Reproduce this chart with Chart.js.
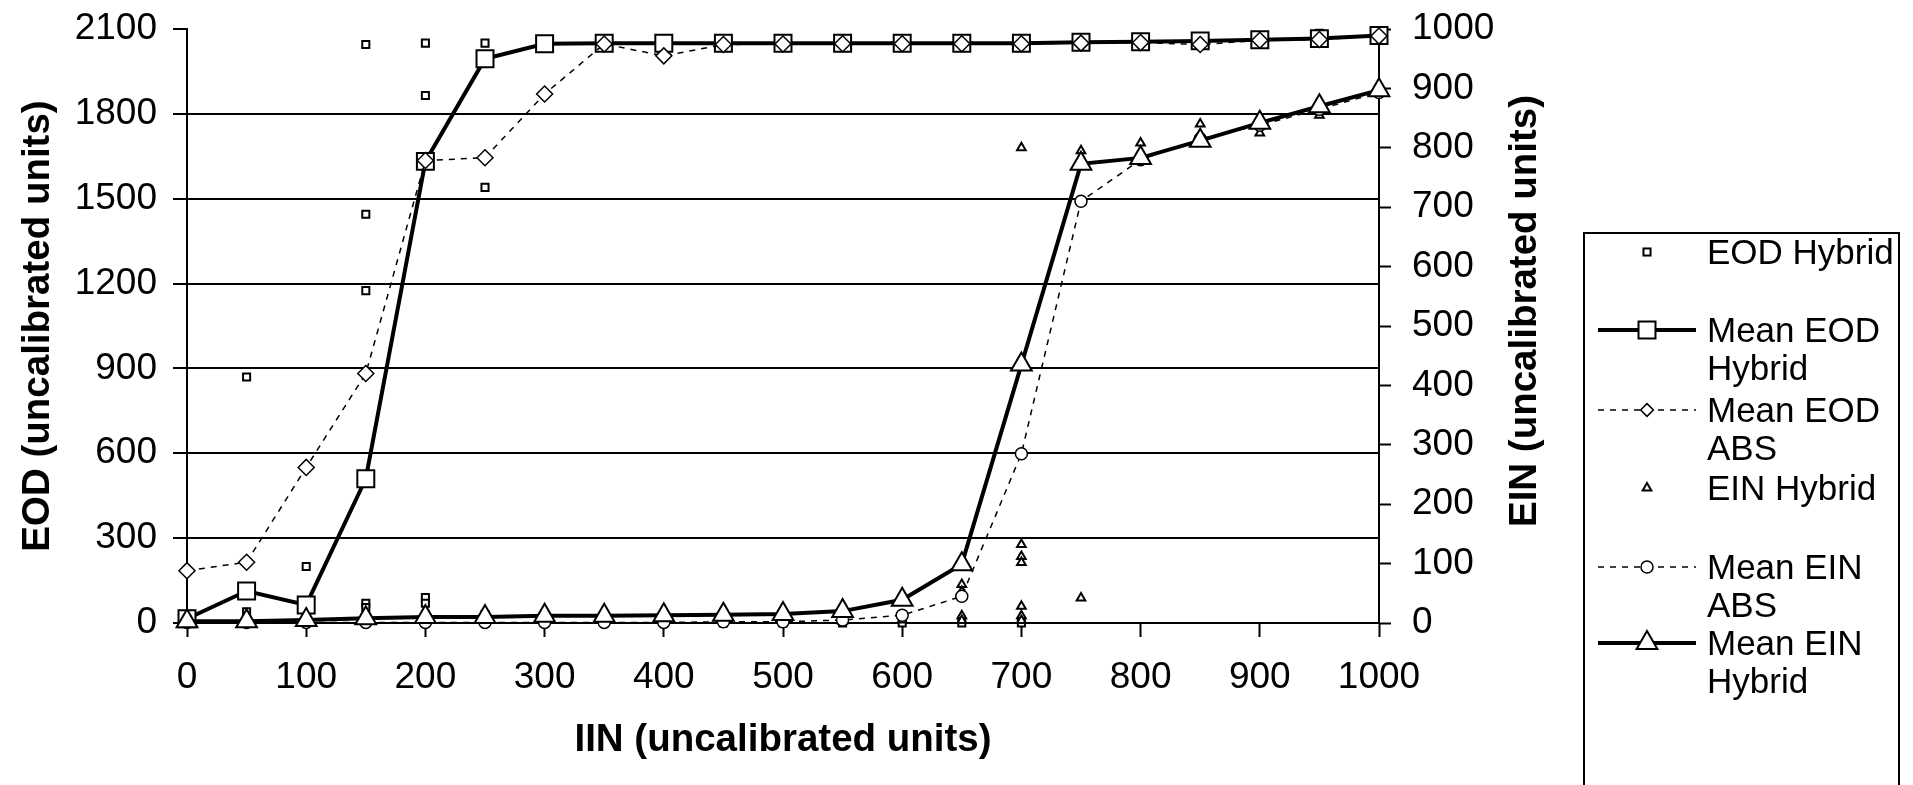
<!DOCTYPE html>
<html>
<head>
<meta charset="utf-8">
<title>EOD and EIN vs IIN</title>
<script src="https://cdn.jsdelivr.net/npm/chart.js"></script>
<style>
  html, body { margin: 0; padding: 0; background: #fff; }
  body { width: 1913px; height: 785px; position: relative; overflow: hidden; font-family: "Liberation Sans", Arial, sans-serif; }
  #wrap { position: absolute; left: 0; top: 0; width: 1913px; height: 785px; }
  #legendBox { position: absolute; left: 1583px; top: 232px; width: 313px; height: 620px; border: 2px solid #000; }
  .lg-text { position: absolute; left: 1707px; font-size: 35px; line-height: 38px; color: #000; white-space: nowrap; }
  .lg-sym { position: absolute; left: 1590px; width: 116px; height: 40px; }
</style>
</head>
<body>
<div id="wrap"><canvas id="chart"></canvas></div>
<div id="legendBox"></div>
<div id="legend"></div>
<script>
// --------- Data ---------
const iin = [0, 50, 100, 150, 200, 250, 300, 350, 400, 450, 500, 550, 600, 650, 700, 750, 800, 850, 900, 950, 1000];

// left axis (EOD)
const meanEodHybrid = [15, 113, 64, 510, 1632, 1995, 2048, 2050, 2050, 2050, 2050, 2050, 2050, 2050, 2050, 2053, 2055, 2058, 2062, 2066, 2077];
const meanEodAbs = [185, 215, 550, 882, 1635, 1645, 1870, 2047, 2005, 2045, 2047, 2048, 2048, 2048, 2048, 2050, 2052, 2045, 2060, 2063, 2075];
const eodHybridX = [0, 50, 50, 100, 100, 150, 150, 150, 150, 150, 200, 200, 200, 200, 250, 250, 250, 450, 500, 550, 600, 650, 700, 950, 1000];
const eodHybridY = [10, 870, 40, 200, 15, 2045, 1445, 1175, 70, 55, 2050, 1865, 90, 70, 2050, 1540, 30, 0, 0, 0, 0, 0, 0, 2085, 2088];

// right axis (EIN)
const meanEinAbs = [1, 1, 1, 1, 1, 1, 1, 1, 1, 2, 2, 5, 13, 45, 285, 710, 780, 815, 838, 865, 893];
const meanEinHybrid = [3, 3, 5, 8, 10, 10, 12, 12, 13, 14, 15, 20, 39, 99, 435, 773, 783, 812, 842, 870, 897];
const einHybridX = [500, 550, 600, 650, 650, 650, 650, 700, 700, 700, 700, 700, 700, 700, 750, 750, 800, 850, 900, 950, 1000];
const einHybridY = [2, 3, 5, 65, 53, 12, 4, 800, 132, 112, 102, 28, 12, 4, 42, 795, 808, 840, 825, 855, 905];

// tick settings
const eodTicks = { min: 0, max: 2100, step: 300 };
const einTicks = { min: 0, max: 1000, step: 100 };
const iinTicks = { min: 0, max: 1000, step: 100 };

const FONT = '"Liberation Sans", Arial, sans-serif';
const TITLE_SIZE = 38.5;
Chart.defaults.font.family = FONT;
Chart.defaults.color = '#000';

const pts = (xs, ys) => xs.map((x, i) => ({ x: x, y: ys[i] }));
const plain = v => String(v);

const datasets = [
  {
    label: 'EOD Hybrid', data: pts(eodHybridX, eodHybridY), yAxisID: 'y',
    showLine: false, pointStyle: 'rect', pointRadius: 5, borderWidth: 2,
    pointBorderColor: '#000', pointBackgroundColor: '#fff', borderColor: '#000', order: 6
  },
  {
    label: 'Mean EOD Hybrid', data: pts(iin, meanEodHybrid), yAxisID: 'y',
    borderColor: '#000', borderWidth: 4, pointStyle: 'rect', pointRadius: 12, pointBorderWidth: 2,
    pointBorderColor: '#000', pointBackgroundColor: '#fff', order: 5
  },
  {
    label: 'Mean EOD ABS', data: pts(iin, meanEodAbs), yAxisID: 'y',
    borderColor: '#000', borderWidth: 1.5, borderDash: [6, 6], pointStyle: 'rectRot', pointRadius: 8,
    pointBorderWidth: 1.5, pointBorderColor: '#000', pointBackgroundColor: '#fff', order: 4
  },
  {
    label: 'EIN Hybrid', data: pts(einHybridX, einHybridY), yAxisID: 'y2',
    showLine: false, pointStyle: 'triangle', pointRadius: 5, borderWidth: 2,
    pointBorderColor: '#000', pointBackgroundColor: '#fff', borderColor: '#000', order: 3
  },
  {
    label: 'Mean EIN ABS', data: pts(iin, meanEinAbs), yAxisID: 'y2',
    borderColor: '#000', borderWidth: 1.5, borderDash: [6, 6], pointStyle: 'circle', pointRadius: 6,
    pointBorderWidth: 1.5, pointBorderColor: '#000', pointBackgroundColor: '#fff', order: 2
  },
  {
    label: 'Mean EIN Hybrid', data: pts(iin, meanEinHybrid), yAxisID: 'y2',
    borderColor: '#000', borderWidth: 4, pointStyle: 'triangle', pointRadius: 12, pointBorderWidth: 2,
    pointBorderColor: '#000', pointBackgroundColor: '#fff', order: 1
  }
];
datasets.forEach(d => { d.clip = false; d.tension = 0; d.fill = false; });

// right-hand axis title reads bottom-to-top, so draw it ourselves
const rightTitle = {
  id: 'rightTitle',
  afterDraw(chart) {
    const { ctx, chartArea } = chart;
    ctx.save();
    ctx.translate(chart.scales.y2.left + 146, (chartArea.top + chartArea.bottom) / 2 - 15);
    ctx.rotate(-Math.PI / 2);
    ctx.font = 'bold ' + TITLE_SIZE + 'px ' + FONT;
    ctx.textAlign = 'center';
    ctx.textBaseline = 'middle';
    ctx.fillStyle = '#000';
    ctx.fillText('EIN (uncalibrated units)', 0, 0);
    ctx.restore();
  }
};

new Chart(document.getElementById('chart'), {
  type: 'line',
  data: { datasets: datasets },
  options: {
    responsive: true,
    maintainAspectRatio: false,
    animation: false,
    layout: { padding: { top: 29, left: 0, right: 0, bottom: 0 } },
    plugins: { legend: { display: false }, tooltip: { enabled: false } },
    scales: {
      x: {
        type: 'linear', position: 'bottom', min: iinTicks.min, max: iinTicks.max,
        ticks: { stepSize: iinTicks.step, callback: plain, font: { size: 37 }, color: '#000', padding: 19, maxRotation: 0, autoSkip: false },
        grid: { drawOnChartArea: false, tickLength: 14, tickColor: '#000', tickWidth: 2 },
        border: { color: '#000', width: 2 },
        title: { display: true, text: 'IIN (uncalibrated units)', font: { size: TITLE_SIZE, weight: 'bold' }, color: '#000', padding: { top: 0, bottom: 22 } },
        afterFit(s) { s.height = 162; }
      },
      y: {
        position: 'left', min: eodTicks.min, max: eodTicks.max,
        ticks: { stepSize: eodTicks.step, callback: plain, font: { size: 37 }, color: '#000', padding: 16 },
        grid: {
          color: ctx => (ctx.tick && ctx.tick.value === eodTicks.max) ? 'rgba(0,0,0,0)' : '#000',
          lineWidth: 2, tickLength: 14, tickColor: '#000', tickWidth: 2
        },
        border: { color: '#000', width: 2 },
        title: { display: true, text: 'EOD (uncalibrated units)', font: { size: TITLE_SIZE, weight: 'bold' }, color: '#000', padding: { top: 15, bottom: 0 } },
        afterFit(s) { s.width = 187; s.paddingTop = 0; s.paddingBottom = 0; }
      },
      y2: {
        position: 'right', min: einTicks.min, max: einTicks.max,
        ticks: { stepSize: einTicks.step, callback: plain, font: { size: 37 }, color: '#000', padding: 21 },
        grid: { drawOnChartArea: false, tickLength: 12, tickColor: '#000', tickWidth: 2 },
        border: { color: '#000', width: 2 },
        afterFit(s) { s.width = 534; s.paddingTop = 0; s.paddingBottom = 0; }
      }
    }
  },
  plugins: [rightTitle]
});

// --------- Legend (HTML, Excel-style box) ---------
const legendLines = [
  ['EOD Hybrid'],
  ['Mean EOD', 'Hybrid'],
  ['Mean EOD', 'ABS'],
  ['EIN Hybrid'],
  ['Mean EIN', 'ABS'],
  ['Mean EIN', 'Hybrid']
];
const legendY = [252, 330, 410, 488, 567, 643];

function symbolSvg(ds) {
  const cx = 57, cy = 20;
  let s = '';
  if (ds.showLine !== false) {
    const dash = ds.borderDash ? ` stroke-dasharray="${ds.borderDash.join(' ')}"` : '';
    s += `<line x1="8" y1="${cy}" x2="106" y2="${cy}" stroke="#000" stroke-width="${ds.borderWidth}"${dash}/>`;
  }
  const r = ds.showLine === false ? ds.pointRadius : Math.min(ds.pointRadius, 12);
  const sw = ds.pointBorderWidth || ds.borderWidth;
  if (ds.pointStyle === 'rect') {
    const h = r * Math.SQRT1_2;
    s += `<rect x="${cx - h}" y="${cy - h}" width="${2 * h}" height="${2 * h}" fill="#fff" stroke="#000" stroke-width="${sw}"/>`;
  } else if (ds.pointStyle === 'rectRot') {
    const h = r * 0.8;
    s += `<polygon points="${cx},${cy - h} ${cx + h},${cy} ${cx},${cy + h} ${cx - h},${cy}" fill="#fff" stroke="#000" stroke-width="${sw}"/>`;
  } else if (ds.pointStyle === 'triangle') {
    const a = r * Math.sqrt(3) / 2;
    s += `<polygon points="${cx},${cy - r} ${cx + a},${cy + r / 2} ${cx - a},${cy + r / 2}" fill="#fff" stroke="#000" stroke-width="${sw}"/>`;
  } else if (ds.pointStyle === 'circle') {
    s += `<circle cx="${cx}" cy="${cy}" r="${r}" fill="#fff" stroke="#000" stroke-width="${sw}"/>`;
  }
  return `<svg class="lg-sym" viewBox="0 0 116 40">${s}</svg>`;
}

const legend = document.getElementById('legend');
datasets.forEach((ds, i) => {
  const y = legendY[i];
  const holder = document.createElement('div');
  holder.innerHTML = symbolSvg(ds);
  const svg = holder.firstChild;
  svg.style.top = (y - 20) + 'px';
  legend.appendChild(svg);

  const t = document.createElement('div');
  t.className = 'lg-text';
  t.style.top = (y - 19) + 'px';
  t.innerHTML = legendLines[i].join('<br>');
  legend.appendChild(t);
});
</script>
</body>
</html>
